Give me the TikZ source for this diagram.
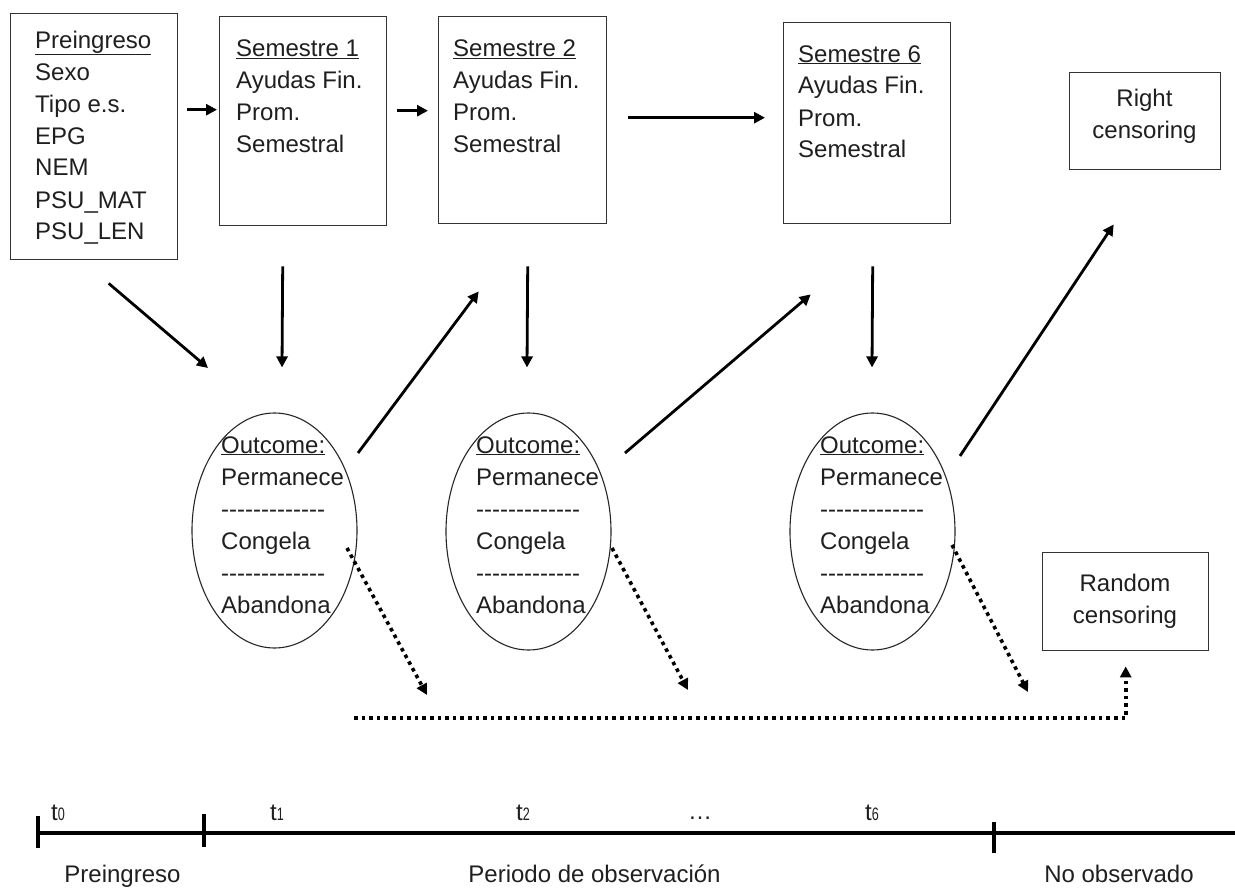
\documentclass[tikz,border=0pt]{standalone}
\usepackage{fontspec}
\setmainfont{Liberation Sans}
\newfontfamily\subfont[FakeStretch=0.7]{Liberation Sans}
\usetikzlibrary{arrows.meta,shapes.geometric}
\newcommand\hy{-\kern0pt}
\newcommand\hyrow{\hy\hy\hy\hy\hy\hy\hy\hy\hy\hy\hy\hy\hy}
\newcommand\tsub[1]{t{\subfont\fontsize{18}{18}\selectfont #1}}
\begin{document}
\begin{tikzpicture}[x=1pt,y=-1pt,
  box/.style={draw=black!80, line width=1.4pt, inner sep=0pt, anchor=north west},
  txt/.style={inner sep=0pt, anchor=base west, align=left, font=\fontsize{24}{32}\selectfont, text=black!88},
  ctxt/.style={inner sep=0pt, anchor=base, align=center, font=\fontsize{24}{32}\selectfont, text=black!88},
  oval/.style={draw=black!85, line width=1.1pt, ellipse, inner sep=0pt},
  arr/.style={line width=2.8pt, -{Triangle[length=11pt,width=11pt]}},
  dots/.style={line width=3.6pt, dash pattern=on 3.6pt off 4pt, -{Triangle[length=11pt,width=11pt]}},
  axis/.style={line width=3.5pt}
]
\useasboundingbox (0,0) rectangle (1235,888);
\fill[white] (0,0) rectangle (1235,888);

% boxes
\node[box, minimum width=167.5pt, minimum height=246pt] (pre) at (9.5,13) {};
\node[box, minimum width=167pt, minimum height=209pt] (s1) at (219,16) {};
\node[box, minimum width=168pt, minimum height=207pt] (s2) at (438,16) {};
\node[box, minimum width=167pt, minimum height=201pt] (s6) at (783,22) {};
\node[box, minimum width=151pt, minimum height=97pt] (rc) at (1069,72) {};
\node[box, minimum width=166pt, minimum height=98pt] (rnd) at (1042,552) {};

% box texts (anchored at the baseline of the last line)
\node[txt] (pret) at (35,240) {\underline{Preingreso}\\Sexo\\Tipo e.s.\\EPG\\NEM\\PSU\_MAT\\PSU\_LEN};
\node[txt] (s1t) at (236,153) {\underline{Semestre 1}\\Ayudas Fin.\\Prom.\\Semestral};
\node[txt] (s2t) at (453,153) {\underline{Semestre 2}\\Ayudas Fin.\\Prom.\\Semestral};
\node[txt] (s6t) at (798,158) {\underline{Semestre 6}\\Ayudas Fin.\\Prom.\\Semestral};
\node[ctxt] (rct) at (1144.5,139) {Right\\censoring};
\node[ctxt] (rndt) at (1125,623) {Random\\censoring};

% ellipses
\node[oval, minimum width=165pt, minimum height=235pt] (e1) at (274.5,530.5) {};
\node[oval, minimum width=165pt, minimum height=237pt] (e2) at (528.5,531.5) {};
\node[oval, minimum width=165pt, minimum height=237pt] (e3) at (872.5,531.5) {};
\node[txt] (e1t) at (221,613) {\underline{Outcome:}\\Permanece\\\hyrow\\Congela\\\hyrow\\Abandona};
\node[txt] (e2t) at (476,613) {\underline{Outcome:}\\Permanece\\\hyrow\\Congela\\\hyrow\\Abandona};
\node[txt] (e3t) at (820,613) {\underline{Outcome:}\\Permanece\\\hyrow\\Congela\\\hyrow\\Abandona};

% horizontal arrows
\draw[arr] ([shift={(9,-27)}]pre.east) -- ([shift={(-2,-11.5)}]s1.west);
\draw[arr] ([shift={(10,-10.5)}]s1.east) -- ([shift={(-10,-9.5)}]s2.west);
\draw[arr] ([shift={(21,-2.5)}]s2.east) -- ([shift={(-18,-5.5)}]s6.west);

% arrows to/from outcomes
\draw[arr] ([shift={(14.75,23)}]pre.south) -- ([shift={(-66.5,-162.5)}]e1.center);
\draw[arr] ([shift={(-20.5,40)}]s1.south) -- ([shift={(7.5,-45)}]e1.north);
\draw[arr] ([shift={(83.5,-77.5)}]e1.center) -- ([shift={(-44,67)}]s2.south);
\draw[arr] ([shift={(5,42)}]s2.south) -- ([shift={(-1.5,-45)}]e2.north);
\draw[arr] ([shift={(96.5,-78.5)}]e2.center) -- ([shift={(-56.5,70)}]s6.south);
\draw[arr] ([shift={(5.5,42)}]s6.south) -- ([shift={(-0.5,-45)}]e3.north);
\draw[arr] ([shift={(87.5,-75.5)}]e3.center) -- ([shift={(-31.5,54)}]rc.south);

% dotted arrows
\coordinate (d1) at (427,695);
\coordinate (d2) at (688,690);
\coordinate (d3) at (1028,692);
\coordinate (hs) at (354,718);
\draw[dots] ([shift={(72.5,17.5)}]e1.center) -- (d1);
\draw[dots] ([shift={(83.5,16.5)}]e2.center) -- (d2);
\draw[dots] ([shift={(79.5,13.5)}]e3.center) -- (d3);
\draw[dots] (hs) -| ([shift={(0,15)}]rnd.south);

% timeline
\draw[axis] (38,833) -- (1235,833);
\draw[axis] (38,816) -- (38,848);
\draw[axis] (204,814) -- (204,847);
\draw[axis] (994,822) -- (994,853);
\node[txt] (t0) at (51,820) {\tsub{0}};
\node[txt] (t1) at (270,820) {\tsub{1}};
\node[txt] (t2) at (516,820) {\tsub{2}};
\node[txt] (tdots) at (688,819) {\dots};
\node[txt] (t6) at (865,820) {\tsub{6}};
\node[ctxt] (lpre) at (122.5,882) {Preingreso};
\node[ctxt] (lobs) at (594.5,882) {Periodo de observación};
\node[ctxt] (lno) at (1119,882) {No observado};
\end{tikzpicture}
\end{document}
